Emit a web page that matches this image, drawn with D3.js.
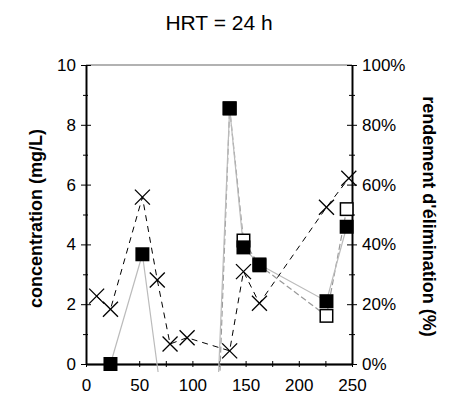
<!DOCTYPE html>
<html>
<head>
<meta charset="utf-8">
<script src="https://cdn.jsdelivr.net/npm/d3@7"></script>
<style>
  body { margin: 0; background: #fff; }
  text { font-family: Arial, "Liberation Sans", sans-serif; }
</style>
</head>
<body>
<div id="myDataVis"></div>
<script>
// data (time in days, concentration in mg/L, removal as fraction)
const crossDays = [10, 23, 53, 67, 79, 95, 135, 148, 163, 226, 247];
const crossConc = [2.27, 1.83, 5.58, 2.81, 0.67, 0.88, 0.44, 3.09, 2.03, 5.24, 6.21];

// removal series 1 (filled squares), points below 0 fall outside the frame
const filledDays = [23, 53, 78, 95, 135, 148, 163, 226, 245];
const filledRem = [0.0, 0.367, -0.30, -2.55, 0.855, 0.39, 0.333, 0.21, 0.459];

// removal series 2 (open squares)
const openDays = [95, 135, 148, 163, 226, 245];
const openRem = [-3.0, 0.855, 0.413, 0.33, 0.161, 0.518];

const xTicks = [0, 50, 100, 150, 200, 250];
const yTicks = [0, 2, 4, 6, 8, 10];
const pctTicks = [0, 0.2, 0.4, 0.6, 0.8, 1.0];

document.addEventListener('DOMContentLoaded', function () {
    const svg = d3.select("#myDataVis")
        .append("svg")
        .attr("width", 468)
        .attr("height", 400);

    const margin = { top: 65, right: 116, bottom: 36, left: 86 };
    const width = 468 - margin.left - margin.right;
    const height = 400 - margin.top - margin.bottom;

    const xScale = d3.scaleLinear().domain([0, 250]).range([margin.left, margin.left + width]);
    const yScale = d3.scaleLinear().domain([0, 10]).range([margin.top + height, margin.top]);
    const pScale = d3.scaleLinear().domain([0, 1]).range([margin.top + height, margin.top]);

    // lines run a little past the bottom axis before being cut
    svg.append("clipPath").attr("id", "plotClip")
        .append("rect")
        .attr("x", margin.left - 6)
        .attr("y", margin.top - 6)
        .attr("width", width + 12)
        .attr("height", height + 14);

    // title
    svg.append("text")
        .attr("x", margin.left + width / 2)
        .attr("y", 30)
        .attr("text-anchor", "middle")
        .style("font-size", "21px")
        .text("HRT = 24 h");

    // top frame line
    svg.append("line")
        .attr("x1", margin.left).attr("x2", margin.left + width)
        .attr("y1", margin.top).attr("y2", margin.top)
        .attr("stroke", "#999").attr("stroke-width", 1.5);

    // left axis: major crossing ticks + minor ticks
    const left = svg.append("g").attr("transform", `translate(${margin.left},0)`);
    left.call(d3.axisLeft(yScale).tickValues(yTicks).tickSize(5).tickSizeOuter(0).tickPadding(5));
    left.append("g").call(d3.axisLeft(yScale).tickValues(yTicks).tickSize(-5).tickSizeOuter(0).tickFormat(""));
    left.append("g").call(d3.axisLeft(yScale).tickValues(d3.range(1, 10, 2)).tickSize(3).tickSizeOuter(0).tickFormat(""));
    left.append("g").call(d3.axisLeft(yScale).tickValues(d3.range(1, 10, 2)).tickSize(-2).tickSizeOuter(0).tickFormat(""));

    // right axis
    const right = svg.append("g").attr("transform", `translate(${margin.left + width},0)`);
    right.call(d3.axisRight(pScale).tickValues(pctTicks).tickSize(5).tickSizeOuter(0).tickPadding(5)
        .tickFormat(d3.format(".0%")));
    right.append("g").call(d3.axisRight(pScale).tickValues(pctTicks).tickSize(-5).tickSizeOuter(0).tickFormat(""));
    right.append("g").call(d3.axisRight(pScale).tickValues(d3.range(0.1, 1, 0.2)).tickSize(3).tickSizeOuter(0).tickFormat(""));
    right.append("g").call(d3.axisRight(pScale).tickValues(d3.range(0.1, 1, 0.2)).tickSize(-3).tickSizeOuter(0).tickFormat(""));

    // bottom axis, ticks every 25 crossing the line
    const bottom = svg.append("g").attr("transform", `translate(0,${margin.top + height})`);
    bottom.call(d3.axisBottom(xScale).tickValues(xTicks).tickSize(3).tickSizeOuter(0).tickPadding(12));
    bottom.append("g").call(d3.axisBottom(xScale).tickValues(d3.range(25, 250, 50)).tickSize(3).tickSizeOuter(0).tickFormat(""));
    bottom.append("g").call(d3.axisBottom(xScale).tickValues(d3.range(0, 251, 25)).tickSize(-3).tickSizeOuter(0).tickFormat(""));

    svg.selectAll(".domain").attr("stroke", "#000").attr("stroke-width", 1.3);
    svg.selectAll(".tick line").attr("stroke", "#000").attr("stroke-width", 1);
    svg.selectAll(".tick text").style("font-size", "17px").attr("fill", "#000");

    // axis titles
    svg.append("text")
        .attr("transform", `translate(42,${margin.top + height / 2 + 4}) rotate(-90)`)
        .attr("text-anchor", "middle")
        .style("font-size", "18px")
        .style("font-weight", "bold")
        .text("concentration (mg/L)");

    svg.append("text")
        .attr("transform", `translate(423,${margin.top + height / 2 + 2}) rotate(90)`)
        .attr("text-anchor", "middle")
        .style("font-size", "18px")
        .style("font-weight", "bold")
        .text("rendement d'élimination (%)");

    const plot = svg.append("g").attr("clip-path", "url(#plotClip)");

    const crossData = crossDays.map((d, i) => ({ x: d, y: crossConc[i] }));
    const filledData = filledDays.map((d, i) => ({ x: d, y: filledRem[i] }));
    const openData = openDays.map((d, i) => ({ x: d, y: openRem[i] }));

    const concLine = d3.line().x(d => xScale(d.x)).y(d => yScale(d.y));
    const remLine = d3.line().x(d => xScale(d.x)).y(d => pScale(d.y));

    plot.append("path").datum(openData)
        .attr("d", remLine)
        .attr("fill", "none")
        .attr("stroke", "#999")
        .attr("stroke-width", 1.2)
        .attr("stroke-dasharray", "6,3");

    plot.append("path").datum(filledData)
        .attr("d", remLine)
        .attr("fill", "none")
        .attr("stroke", "#bbb")
        .attr("stroke-width", 1.2);

    plot.append("path").datum(crossData)
        .attr("d", concLine)
        .attr("fill", "none")
        .attr("stroke", "#000")
        .attr("stroke-width", 1)
        .attr("stroke-dasharray", "6,5");

    const sq = 14;
    svg.selectAll(".open-sq")
        .data(openData.filter(d => d.y >= 0))
        .enter().append("rect")
        .attr("class", "open-sq")
        .attr("x", d => xScale(d.x) - sq / 2 + 0.75)
        .attr("y", d => pScale(d.y) - sq / 2 + 0.75)
        .attr("width", sq - 1.5)
        .attr("height", sq - 1.5)
        .attr("fill", "#fff")
        .attr("stroke", "#000")
        .attr("stroke-width", 1.5);

    svg.selectAll(".filled-sq")
        .data(filledData.filter(d => d.y >= 0))
        .enter().append("rect")
        .attr("class", "filled-sq")
        .attr("x", d => xScale(d.x) - sq / 2)
        .attr("y", d => pScale(d.y) - sq / 2)
        .attr("width", sq)
        .attr("height", sq)
        .attr("fill", "#000");

    const cr = 7.5;
    const crosses = svg.selectAll(".cross")
        .data(crossData)
        .enter().append("g")
        .attr("class", "cross")
        .attr("transform", d => `translate(${xScale(d.x)},${yScale(d.y)})`);
    crosses.append("line").attr("x1", -cr).attr("y1", -cr).attr("x2", cr).attr("y2", cr)
        .attr("stroke", "#000").attr("stroke-width", 1.3);
    crosses.append("line").attr("x1", -cr).attr("y1", cr).attr("x2", cr).attr("y2", -cr)
        .attr("stroke", "#000").attr("stroke-width", 1.3);
});
</script>
</body>
</html>
